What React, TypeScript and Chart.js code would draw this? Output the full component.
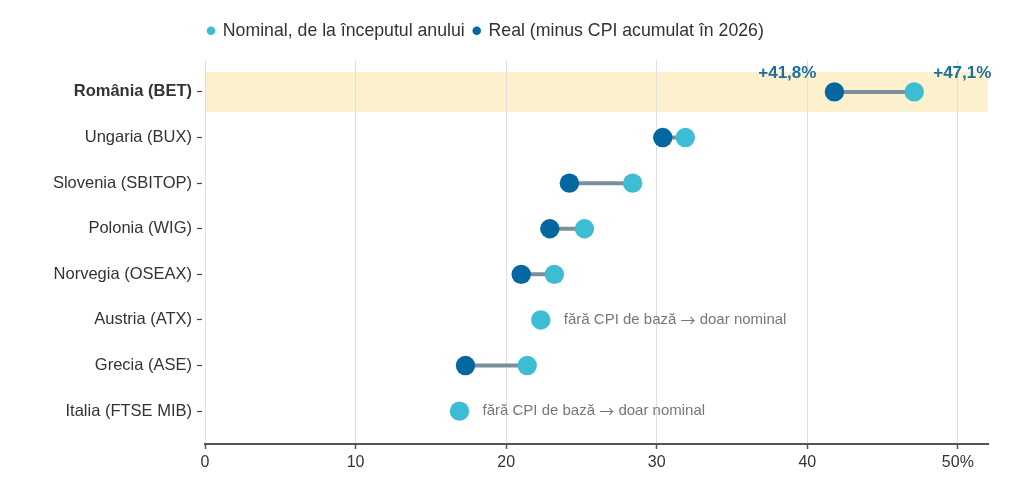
import React, { useEffect, useRef } from "react";
import { Chart, registerables } from "chart.js";

Chart.register(...registerables);

const countries = [
  "România (BET)",
  "Ungaria (BUX)",
  "Slovenia (SBITOP)",
  "Polonia (WIG)",
  "Norvegia (OSEAX)",
  "Austria (ATX)",
  "Grecia (ASE)",
  "Italia (FTSE MIB)",
];
// randament nominal de la inceputul anului (%)
const nominal = [47.1, 31.9, 28.4, 25.2, 23.2, 22.3, 21.4, 16.9];
// randament real, minus CPI acumulat (null = fara CPI de baza)
const real: (number | null)[] = [41.8, 30.4, 24.2, 22.9, 21.0, null, 17.3, null];
const seriesLabels = ["Nominal, de la începutul anului", "Real (minus CPI acumulat în 2026)"];
const highlightRow = 0;
const noteText = "fără CPI de bază → doar nominal";

const FONT = "'Liberation Sans', Arial, Helvetica, sans-serif";
const NOMINAL_COLOR = "#3dbdd4";
const REAL_COLOR = "#0467a0";
const LINK_COLOR = "#7a8f9b";
const LABEL_COLOR = "#1d6f9b";

const fmt = (v: number) => "+" + v.toFixed(1).replace(".", ",") + "%";

// fundal pentru randul Romaniei (sub grid)
const bandPlugin = {
  id: "band",
  beforeDraw(chart: any) {
    const { ctx, chartArea, scales } = chart;
    const y0 = scales.y.getPixelForValue(highlightRow - 0.44);
    const y1 = scales.y.getPixelForValue(highlightRow + 0.44);
    ctx.save();
    ctx.fillStyle = "#fdf0cd";
    ctx.fillRect(chartArea.left, Math.min(y0, y1), chartArea.right - chartArea.left, Math.abs(y1 - y0));
    ctx.restore();
  },
};

// spatiu intre legenda si grafic, legenda aliniata cu zona graficului
const legendGap = {
  id: "legendGap",
  beforeInit(chart: any) {
    const fit = chart.legend.fit;
    chart.legend.fit = function () {
      fit.call(this);
      this.height += 10.3;
    };
  },
  afterLayout(chart: any) {
    chart.legend.left = chart.chartArea.left - 6;
  },
};

// text cu sageata: sageata luata din alt font (cea din Liberation e prea mica)
function drawNote(ctx: CanvasRenderingContext2D, text: string, x0: number, y0: number) {
  const parts = text.split("→");
  let x = x0;
  parts.forEach((p, i) => {
    ctx.font = `15px ${FONT}`;
    ctx.fillText(p, x, y0);
    x += ctx.measureText(p).width;
    if (i < parts.length - 1) {
      ctx.font = "15px 'Noto Sans CJK SC', 'DejaVu Sans', sans-serif";
      ctx.fillText("→", x, y0);
      x += ctx.measureText("→").width;
    }
  });
}

const notesPlugin = {
  id: "notes",
  afterDatasetsDraw(chart: any) {
    const { ctx, scales } = chart;
    const { x, y } = scales;
    ctx.save();
    ctx.textBaseline = "middle";

    const hy = y.getPixelForValue(highlightRow) - 19;
    ctx.font = `bold 17px ${FONT}`;
    ctx.fillStyle = LABEL_COLOR;
    const r = real[highlightRow];
    if (r != null) {
      ctx.textAlign = "right";
      ctx.fillText(fmt(r), x.getPixelForValue(r) - 18, hy);
    }
    ctx.textAlign = "left";
    ctx.fillText(fmt(nominal[highlightRow]), x.getPixelForValue(nominal[highlightRow]) + 19, hy);

    ctx.fillStyle = "#777";
    nominal.forEach((v, i) => {
      if (real[i] == null) {
        drawNote(ctx, noteText, x.getPixelForValue(v) + 23, y.getPixelForValue(i));
      }
    });
    ctx.restore();
  },
};

export default function App() {
  const canvasRef = useRef<HTMLCanvasElement>(null);

  useEffect(() => {
    if (!canvasRef.current) return;

    const links: any[] = [];
    countries.forEach((_, i) => {
      const r = real[i];
      if (r == null) return;
      links.push({
        label: "",
        data: [
          { x: r, y: i },
          { x: nominal[i], y: i },
        ],
        showLine: true,
        borderColor: LINK_COLOR,
        borderWidth: 4,
        pointRadius: 0,
        order: 3,
      });
    });

    const chart = new Chart(canvasRef.current, {
      type: "scatter",
      data: {
        datasets: [
          {
            label: seriesLabels[0],
            data: nominal.map((v, i) => ({ x: v, y: i })),
            backgroundColor: NOMINAL_COLOR,
            borderColor: NOMINAL_COLOR,
            borderWidth: 0,
            pointRadius: 9.7,
            order: 1,
          },
          {
            label: seriesLabels[1],
            data: real
              .map((v, i) => (v == null ? null : { x: v, y: i }))
              .filter((p) => p !== null) as any[],
            backgroundColor: REAL_COLOR,
            borderColor: REAL_COLOR,
            borderWidth: 0,
            pointRadius: 9.7,
            order: 2,
          },
          ...links,
        ],
      },
      options: {
        animation: false,
        responsive: true,
        maintainAspectRatio: false,
        events: [],
        layout: { padding: { left: 0, right: 36, top: 13, bottom: 0 } },
        plugins: {
          tooltip: { enabled: false },
          legend: {
            position: "top",
            align: "start",
            labels: {
              usePointStyle: true,
              pointStyle: "circle",
              boxWidth: 6,
              boxHeight: 6,
              padding: 9,
              color: "#333",
              font: { family: FONT, size: 17.7 },
              filter: (item: any) => item.datasetIndex < 2,
            },
          },
        },
        scales: {
          x: {
            type: "linear",
            min: 0,
            max: 52,
            ticks: {
              stepSize: 10,
              includeBounds: false,
              color: "#333",
              padding: 4,
              font: { family: FONT, size: 16 },
              callback: (v: any) => (v === 50 ? "50%" : String(v)),
            },
            grid: {
              color: "#dedede",
              lineWidth: 1,
              tickColor: "#555",
              tickLength: 5,
              tickWidth: 1.5,
            },
            border: { color: "#555", width: 2 },
            afterFit: (s: any) => {
              s.height = 55;
            },
          },
          y: {
            type: "linear",
            reverse: true,
            min: -0.7,
            max: 7.72,
            afterBuildTicks: (s: any) => {
              s.ticks = countries.map((_, i) => ({ value: i }));
            },
            ticks: {
              color: "#333",
              padding: 5,
              autoSkip: false,
              font: (c: any) => ({
                family: FONT,
                size: 16.5,
                weight: c.tick && c.tick.value === highlightRow ? "bold" : "normal",
              }),
              callback: (v: any) => countries[v],
            },
            grid: {
              drawOnChartArea: false,
              tickLength: 8,
              tickColor: "#444",
              tickWidth: 1.2,
              tickBorderDash: [5, 10],
            },
            border: { display: false },
            afterFit: (s: any) => {
              s.width = 205;
            },
          },
        },
      },
      plugins: [bandPlugin, legendGap, notesPlugin],
    });

    return () => {
      chart.destroy();
    };
  }, []);

  return (
    <div style={{ position: "absolute", left: 0, top: 0, width: 1024, height: 499 }}>
      <canvas ref={canvasRef} />
    </div>
  );
}
